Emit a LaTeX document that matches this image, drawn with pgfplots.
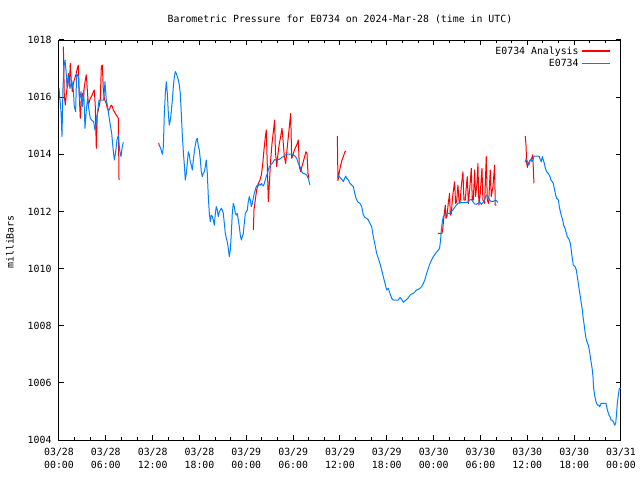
\documentclass[border=0pt]{standalone}
\usepackage{fontspec}
\setmainfont{DejaVu Sans Mono}
\usepackage{pgfplots}
\pgfplotsset{compat=1.18}
\definecolor{anared}{RGB}{255,0,0}
\definecolor{obsblue}{RGB}{0,128,255}
\begin{document}
\fontsize{7.4}{9.4}\selectfont
\begin{tikzpicture}[x=0.75pt,y=0.75pt]
\useasboundingbox (-59,-40) rectangle (581,440);
\node at (281,421) {Barometric Pressure for E0734 on 2024-Mar-28 (time in UTC)};
\node[rotate=90] at (-49,198) {milliBars};
\begin{axis}[
  scale only axis, width=421.5pt, height=300pt,
  xmin=0, xmax=72, ymin=1004, ymax=1018,
  xtick={0,6,...,72},
  xticklabels={03/28\\00:00,03/28\\06:00,03/28\\12:00,03/28\\18:00,03/29\\00:00,03/29\\06:00,03/29\\12:00,03/29\\18:00,03/30\\00:00,03/30\\06:00,03/30\\12:00,03/30\\18:00,03/31\\00:00},
  minor x tick num=2,
  ytick={1004,1006,...,1018},
  /pgf/number format/assume math mode=true,
  /pgf/number format/1000 sep={},
  yticklabel style={/pgf/number format/1000 sep={}, xshift=-3pt},
  xticklabel style={align=center, yshift=-3.5pt},
  tick label style={font=\fontsize{7.4}{9.4}\selectfont},
  major tick length=3.75pt, minor tick length=1.9pt,
  tick align=inside,
  axis line style={line width=0.75pt},
  every tick/.style={line width=0.75pt, black},
  unbounded coords=jump,
  legend style={at={(axis description cs:0.982,0.99)}, anchor=north east, draw=none, fill=none, inner sep=0pt, font=\fontsize{7.4}{9.4}\selectfont, row sep=-1.4pt},
  legend cell align=right,
  legend plot pos=right,
  legend image code/.code={\draw[#1, line width=1pt] (0pt,0.4pt) -- (21pt,0.4pt);},
  line join=round,
]
\addplot[color=anared, line width=0.75pt] coordinates {
(0.56,1017.77)(0.60,1017.24)(0.68,1016.02)(0.81,1015.72)(0.94,1016.13)(1.07,1016.37)(1.20,1016.83)(1.32,1016.37)(1.45,1017.18)(1.58,1016.54)(1.71,1016.19)(1.84,1016.48)(1.96,1016.60)(2.09,1016.72)(2.22,1016.83)(2.35,1017.01)(2.48,1017.12)(2.60,1016.02)(2.73,1015.26)(2.86,1015.90)(2.99,1016.13)(3.12,1016.02)(3.25,1016.37)(3.37,1016.60)(3.50,1016.78)(3.63,1016.25)(3.76,1015.72)(3.89,1015.84)(4.01,1015.96)(4.14,1016.02)(4.27,1016.08)(4.40,1016.19)(4.53,1016.25)(4.65,1015.67)(4.78,1014.21)(4.91,1015.43)(5.04,1015.55)(5.17,1015.72)(5.29,1015.90)(5.42,1017.07)(5.55,1017.12)(5.68,1016.25)(5.81,1015.96)(5.94,1015.84)(6.06,1015.78)(6.19,1015.61)(6.32,1015.55)(6.45,1015.55)(6.58,1015.67)(6.70,1015.72)(6.83,1015.67)(6.96,1015.55)(7.09,1015.49)(7.22,1015.43)(7.34,1015.37)(7.47,1015.32)(7.60,1015.26)(7.69,1013.10)
(10,nan)
(12.78,1014.40)(12.85,1014.30)
(20,nan)
(24.90,1011.35)(24.98,1012.05)(25.15,1012.40)(25.32,1012.75)(25.54,1012.98)(25.75,1013.10)(25.92,1013.27)(26.09,1013.62)(26.26,1014.15)(26.44,1014.62)(26.56,1014.85)(26.69,1013.57)(26.82,1012.34)(26.95,1012.98)(27.12,1013.80)(27.29,1014.38)(27.46,1014.79)(27.63,1015.20)(27.72,1014.15)(27.89,1013.57)(28.06,1014.03)(28.23,1014.38)(28.40,1014.62)(28.57,1014.91)(28.70,1014.50)(28.87,1013.92)(29.04,1013.68)(29.21,1014.15)(29.38,1014.62)(29.55,1015.08)(29.68,1015.43)(29.81,1013.86)(29.98,1013.97)(30.15,1014.15)(30.36,1014.27)(30.53,1014.38)(30.66,1014.50)(30.79,1013.57)(30.96,1013.39)(31.13,1013.57)(31.30,1013.74)(31.47,1013.92)(31.64,1014.09)(31.77,1014.03)(31.90,1013.33)(32.03,1013.16)
(34,nan)
(35.66,1014.64)(35.74,1013.08)(35.92,1013.39)(36.09,1013.62)(36.26,1013.80)(36.43,1013.92)(36.64,1014.09)(36.77,1014.11)
(40,nan)
(48.55,1011.23)(48.76,1011.23)(49.06,1011.23)(49.15,1011.35)(49.32,1011.82)(49.49,1012.22)(49.57,1011.76)(49.70,1011.82)(49.87,1012.28)(50.04,1012.63)(50.13,1011.87)(50.26,1011.93)(50.43,1012.52)(50.68,1013.04)(50.81,1012.28)(50.94,1012.34)(51.11,1012.92)(51.24,1012.40)(51.37,1012.28)(51.54,1012.87)(51.75,1013.39)(51.88,1012.40)(52.05,1012.40)(52.22,1012.98)(52.31,1013.22)(52.44,1012.28)(52.61,1012.75)(52.82,1013.51)(52.95,1012.40)(53.08,1012.40)(53.25,1013.45)(53.37,1012.52)(53.55,1012.98)(53.67,1013.68)(53.80,1012.22)(53.97,1012.63)(54.19,1013.51)(54.31,1012.40)(54.53,1012.28)(54.74,1013.92)(54.87,1012.40)(55.04,1012.28)(55.25,1013.45)(55.38,1012.52)(55.60,1012.87)(55.81,1013.62)(55.89,1012.22)(56.02,1012.22)
(58,nan)
(59.74,1014.64)(59.83,1014.32)(59.91,1013.74)(60.00,1013.54)(60.13,1013.68)(60.34,1013.78)(60.56,1013.86)(60.68,1013.98)(60.77,1013.51)(60.85,1012.98)
};
\addlegendentry{E0734 Analysis}
\addplot[color=obsblue, line width=0.75pt] coordinates {
(0.00,1016.31)(0.26,1015.49)(0.38,1014.62)(0.51,1016.31)(0.64,1017.07)(0.77,1017.30)(0.90,1016.95)(1.02,1016.37)(1.20,1016.72)(1.41,1016.31)(1.62,1016.60)(1.84,1016.25)(1.96,1015.67)(2.13,1015.49)(2.26,1016.83)(2.48,1016.72)(2.65,1015.90)(2.82,1016.19)(2.99,1015.67)(3.16,1016.25)(3.33,1014.91)(3.50,1015.55)(3.67,1015.96)(3.84,1015.55)(4.01,1015.26)(4.18,1015.20)(4.44,1015.14)(4.61,1014.85)(4.78,1015.14)(4.95,1015.49)(5.12,1015.90)(5.47,1015.90)(5.72,1015.90)(5.89,1016.54)(6.06,1015.90)(6.23,1015.67)(6.40,1015.32)(6.58,1015.02)(6.75,1014.73)(6.92,1014.21)(7.09,1013.80)(7.26,1014.09)(7.43,1014.50)(7.60,1014.67)(7.77,1014.15)(7.94,1013.92)(8.11,1014.27)(8.24,1014.42)
(10,nan)
(12.85,1014.32)(13.02,1014.21)(13.24,1014.00)(13.37,1014.27)(13.49,1015.37)(13.62,1016.13)(13.75,1016.54)(13.88,1016.13)(14.01,1015.43)(14.13,1015.02)(14.26,1015.20)(14.39,1015.49)(14.52,1015.90)(14.65,1016.37)(14.78,1016.72)(14.90,1016.89)(15.03,1016.83)(15.16,1016.72)(15.29,1016.60)(15.42,1016.42)(15.54,1016.13)(15.67,1015.43)(15.80,1014.67)(15.93,1014.09)(16.06,1013.62)(16.18,1013.10)(16.31,1013.33)(16.44,1013.68)(16.57,1014.09)(16.70,1013.97)(16.82,1013.74)(16.95,1013.62)(17.08,1013.45)(17.21,1013.80)(17.34,1014.09)(17.46,1014.32)(17.59,1014.50)(17.72,1014.56)(17.85,1014.27)(17.98,1014.15)(18.11,1013.80)(18.23,1013.39)(18.36,1013.22)(18.49,1013.33)(18.62,1013.39)(18.75,1013.57)(18.87,1013.80)(19.00,1013.33)(19.13,1012.52)(19.26,1011.93)(19.39,1011.64)(19.51,1011.87)(19.64,1011.82)(19.77,1011.70)(19.90,1011.52)(20.03,1011.93)(20.15,1012.17)(20.28,1012.05)(20.41,1011.82)(20.54,1011.99)(20.67,1012.05)(20.80,1012.11)(20.92,1012.05)(21.05,1011.93)(21.18,1011.58)(21.31,1011.23)(21.44,1011.06)(21.56,1010.94)(21.69,1010.71)(21.82,1010.42)(21.95,1010.65)(22.08,1011.23)(22.20,1011.93)(22.33,1012.28)(22.46,1012.17)(22.59,1011.93)(22.72,1011.87)(22.85,1011.93)(22.97,1011.70)(23.10,1011.47)(23.23,1011.17)(23.36,1011.00)(23.49,1011.12)(23.61,1011.23)(23.74,1011.58)(23.87,1011.93)(24.00,1011.99)(24.13,1012.05)(24.25,1012.34)(24.38,1012.52)(24.51,1012.40)(24.64,1012.17)(24.77,1012.28)(24.89,1012.46)(25.02,1012.63)(25.15,1012.75)(25.28,1012.87)(25.41,1012.92)(25.54,1012.89)(25.66,1012.96)(25.79,1012.92)(25.92,1012.98)(26.05,1012.92)(26.18,1012.89)(26.30,1012.98)(26.43,1013.10)(26.56,1013.22)(26.69,1013.33)(26.82,1013.45)(26.94,1013.57)(27.07,1013.59)(27.20,1013.66)(27.33,1013.68)(27.46,1013.74)(27.58,1013.80)(27.71,1013.82)(27.84,1013.80)(27.97,1013.82)(28.10,1013.82)(28.23,1013.82)(28.53,1013.89)(28.74,1013.92)(28.95,1013.97)(29.17,1014.00)(29.38,1014.01)(29.59,1014.01)(29.81,1014.01)(30.02,1013.97)(30.24,1013.94)(30.45,1013.86)(30.66,1013.68)(30.88,1013.57)(31.09,1013.39)(31.30,1013.33)(31.52,1013.31)(31.73,1013.27)(31.94,1013.16)(32.16,1012.92)
(34,nan)
(35.66,1013.22)(35.87,1013.24)(36.09,1013.16)(36.30,1013.10)(36.43,1013.04)(36.60,1013.16)(36.73,1013.24)(36.85,1013.16)(37.07,1013.10)(37.28,1012.98)(37.50,1012.92)(37.71,1012.87)(37.84,1012.69)(38.05,1012.46)(38.26,1012.34)(38.56,1012.28)(38.78,1012.17)(38.99,1011.87)(39.20,1011.79)(39.42,1011.76)(39.63,1011.70)(39.84,1011.58)(40.06,1011.47)(40.19,1011.23)(40.36,1011.00)(40.53,1010.77)(40.70,1010.53)(40.91,1010.36)(41.12,1010.18)(41.34,1009.95)(41.55,1009.72)(41.77,1009.48)(41.98,1009.25)(42.19,1009.31)(42.41,1009.13)(42.62,1008.96)(42.83,1008.90)(43.26,1008.90)(43.47,1008.90)(43.69,1008.99)(43.90,1008.92)(44.11,1008.82)(44.33,1008.87)(44.54,1008.92)(44.75,1008.98)(44.97,1009.07)(45.18,1009.11)(45.39,1009.13)(45.61,1009.19)(45.82,1009.25)(46.03,1009.27)(46.25,1009.31)(46.46,1009.37)(46.68,1009.48)(46.89,1009.62)(47.10,1009.83)(47.32,1010.01)(47.53,1010.18)(47.74,1010.30)(47.96,1010.42)(48.17,1010.50)(48.38,1010.58)(48.60,1010.65)(48.76,1010.71)(48.89,1011.00)(48.98,1011.35)(49.11,1011.64)(49.23,1011.82)(49.40,1011.87)(49.62,1011.91)(49.83,1011.93)(50.04,1011.93)(50.26,1011.99)(50.47,1012.05)(50.68,1012.14)(50.90,1012.22)(51.11,1012.28)(51.33,1012.31)(51.54,1012.31)(51.75,1012.31)(51.97,1012.31)(52.18,1012.32)(52.39,1012.32)(52.61,1012.40)(52.82,1012.42)(53.03,1012.34)(53.25,1012.26)(53.46,1012.25)(53.67,1012.28)(53.89,1012.34)(54.10,1012.25)(54.31,1012.31)(54.53,1012.42)(54.74,1012.57)(54.95,1012.52)(55.17,1012.40)(55.38,1012.34)(55.60,1012.34)(55.81,1012.38)(56.02,1012.38)(56.24,1012.31)
(58,nan)
(59.70,1013.72)(59.83,1013.82)(59.96,1013.78)(60.09,1013.68)(60.21,1013.62)(60.34,1013.78)(60.47,1013.82)(60.60,1013.74)(60.73,1013.80)(60.85,1013.94)(60.98,1013.94)(61.20,1013.94)(61.41,1013.94)(61.54,1013.92)(61.67,1013.80)(61.79,1013.74)(61.92,1013.92)(62.05,1013.80)(62.18,1013.68)(62.31,1013.51)(62.48,1013.39)(62.69,1013.33)(62.90,1013.22)(63.03,1013.10)(63.20,1013.04)(63.33,1012.98)(63.50,1012.75)(63.63,1012.57)(63.76,1012.46)(63.97,1012.40)(64.10,1012.17)(64.23,1011.99)(64.40,1011.82)(64.53,1011.70)(64.65,1011.52)(64.83,1011.41)(64.95,1011.29)(65.12,1011.12)(65.25,1011.06)(65.38,1011.00)(65.51,1010.88)(65.63,1010.65)(65.76,1010.36)(65.89,1010.12)(66.11,1010.07)(66.28,1009.95)(66.40,1009.72)(66.53,1009.48)(66.66,1009.25)(66.79,1009.02)(66.92,1008.78)(67.05,1008.55)(67.13,1008.32)(67.26,1008.08)(67.39,1007.79)(67.52,1007.56)(67.64,1007.44)(67.81,1007.32)(67.94,1007.15)(68.07,1006.92)(68.20,1006.68)(68.33,1006.45)(68.41,1006.22)(68.50,1005.81)(68.62,1005.57)(68.80,1005.34)(68.97,1005.22)(69.14,1005.22)(69.27,1005.16)(69.44,1005.28)(69.65,1005.28)(69.86,1005.28)(70.08,1005.28)(70.21,1005.11)(70.33,1004.99)(70.46,1004.87)(70.59,1004.82)(70.72,1004.70)(70.85,1004.70)(71.02,1004.64)(71.19,1004.52)(71.32,1004.58)(71.40,1004.82)(71.53,1005.28)(71.66,1005.57)(71.79,1005.81)(71.91,1005.81)(72.00,1005.81)
};
\addlegendentry{E0734}
\end{axis}
\end{tikzpicture}
\end{document}
